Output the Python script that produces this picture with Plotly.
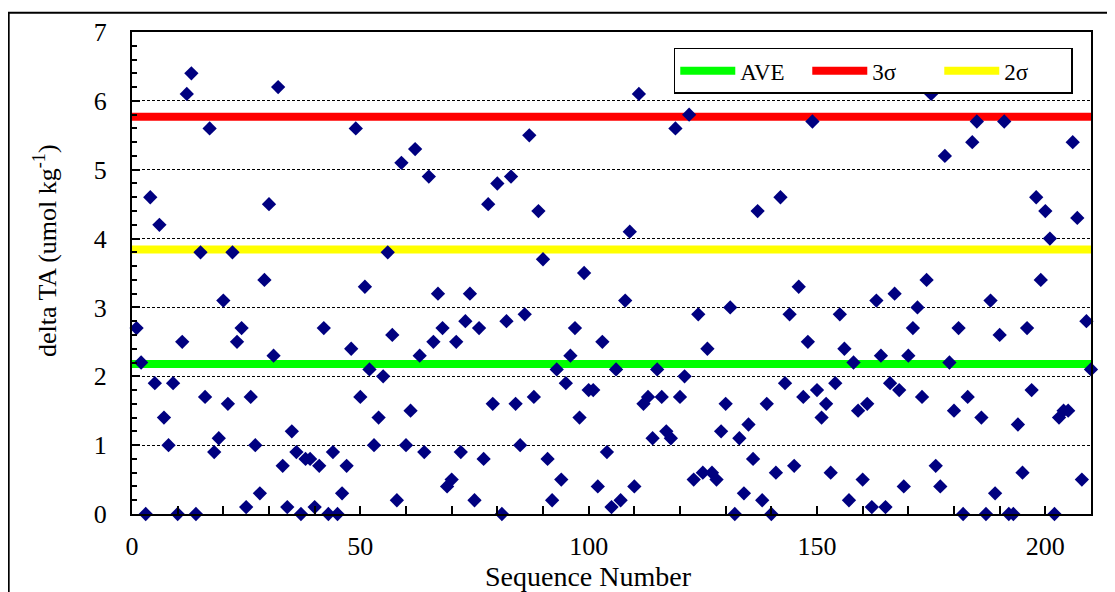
import plotly.graph_objects as go

# ---- data ----
seq = list(range(1, 211))
delta_ta = [
    2.7, 2.2, 0.0, 4.6, 1.9, 4.2, 1.4, 1.0, 1.9, 0.0,   # 1-10
    2.5, 6.1, 6.4, 0.0, 3.8, 1.7, 5.6, 0.9, 1.1, 3.1,   # 11-20
    1.6, 3.8, 2.5, 2.7, 0.1, 1.7, 1.0, 0.3, 3.4, 4.5,   # 21-30
    2.3, 6.2, 0.7, 0.1, 1.2, 0.9, 0.0, 0.8, 0.8, 0.1,   # 31-40
    0.7, 2.7, 0.0, 0.9, 0.0, 0.3, 0.7, 2.4, 5.6, 1.7,   # 41-50
    3.3, 2.1, 1.0, 1.4, 2.0, 3.8, 2.6, 0.2, 5.1, 1.0,   # 51-60
    1.5, 5.3, 2.3, 0.9, 4.9, 2.5, 3.2, 2.7, 0.4, 0.5,   # 61-70
    2.5, 0.9, 2.8, 3.2, 0.2, 2.7, 0.8, 4.5, 1.6, 4.8,   # 71-80
    0.0, 2.8, 4.9, 1.6, 1.0, 2.9, 5.5, 1.7, 4.4, 3.7,   # 81-90
    0.8, 0.2, 2.1, 0.5, 1.9, 2.3, 2.7, 1.4, 3.5, 1.8,   # 91-100
    1.8, 0.4, 2.5, 0.9, 0.1, 2.1, 0.2, 3.1, 4.1, 0.4,   # 101-110
    6.1, 1.6, 1.7, 1.1, 2.1, 1.7, 1.2, 1.1, 5.6, 1.7,   # 111-120
    2.0, 5.8, 0.5, 2.9, 0.6, 2.4, 0.6, 0.5, 1.2, 1.6,   # 121-130
    3.0, 0.0, 1.1, 0.3, 1.3, 0.8, 4.4, 0.2, 1.6, 0.0,   # 131-140
    0.6, 4.6, 1.9, 2.9, 0.7, 3.3, 1.7, 2.5, 5.7, 1.8,   # 141-150
    1.4, 1.6, 0.6, 1.9, 2.9, 2.4, 0.2, 2.2, 1.5, 0.5,   # 151-160
    1.6, 0.1, 3.1, 2.3, 0.1, 1.9, 3.2, 1.8, 0.4, 2.3,   # 161-170
    2.7, 3.0, 1.7, 3.4, 6.1, 0.7, 0.4, 5.2, 2.2, 1.5,   # 171-180
    2.7, 0.0, 1.7, 5.4, 5.7, 1.4, 0.0, 3.1, 0.3, 2.6,   # 181-190
    5.7, 0.0, 0.0, 1.3, 0.6, 2.7, 1.8, 4.6, 3.4, 4.4,   # 191-200
    4.0, 0.0, 1.4, 1.5, 1.5, 5.4, 4.3, 0.5, 2.8, 2.1,   # 201-210
]

line_names = ["AVE", "3σ", "2σ"]
line_values = [2.18, 5.77, 3.84]
line_colors = ["#00ff00", "#ff0000", "#ffff00"]
x_span = [0, 210]

x_ticks = [0, 50, 100, 150, 200]
y_ticks = [0, 1, 2, 3, 4, 5, 6, 7]

x_title = "Sequence Number"
y_title = "delta TA (umol kg<sup>-1</sup>)"

FONT = "Liberation Serif"

fig = go.Figure()

for name, val, col in zip(line_names, line_values, line_colors):
    fig.add_trace(go.Scatter(
        x=x_span, y=[val, val], mode="lines", name=name,
        line=dict(color=col, width=8), cliponaxis=False,
    ))

fig.add_trace(go.Scatter(
    x=seq, y=delta_ta, mode="markers", showlegend=False,
    marker=dict(symbol="diamond", size=11, color="#000080", line=dict(width=0)),
    cliponaxis=False,
))

# the page body has an 8px margin, so the figure is sized/offset to compensate
fig.update_layout(
    width=1107, height=584,
    margin=dict(l=124, r=24, t=24, b=78, autoexpand=False),
    paper_bgcolor="white", plot_bgcolor="white",
    font=dict(family=FONT, size=26, color="black"),
    showlegend=True,
    legend=dict(
        orientation="h", x=0.981, xanchor="right", y=0.967, yanchor="top",
        bordercolor="black", borderwidth=1.5, bgcolor="white",
        font=dict(family=FONT, size=23, color="black"),
        itemwidth=55, entrywidth=62, entrywidthmode="pixels",
    ),
    shapes=[dict(
        type="rect", xref="paper", yref="paper",
        x0=-0.1286, x1=1.05, y0=-0.2, y1=1.040,
        line=dict(color="black", width=2), fillcolor="rgba(0,0,0,0)", layer="below",
    )],
    annotations=[
        dict(text=x_title, xref="paper", yref="paper", x=0.4765, y=-0.1295,
             xanchor="center", yanchor="middle", showarrow=False,
             font=dict(family=FONT, size=28, color="black")),
        dict(text=y_title, xref="paper", yref="paper", x=-0.0907, y=0.5456,
             xanchor="center", yanchor="middle", textangle=-90, showarrow=False,
             font=dict(family=FONT, size=26, color="black")),
    ],
)

fig.update_xaxes(
    range=[0, 210], tickvals=x_ticks, ticks="inside", ticklen=8, tickwidth=1.5,
    tickcolor="black", showline=True, linecolor="black", linewidth=2, mirror=True,
    showgrid=False, zeroline=False, ticklabelstandoff=8, automargin=False,
    tickfont=dict(family=FONT, size=26),
    minor=dict(dtick=10, ticks="inside", ticklen=8, tickcolor="black", tickwidth=1.5, showgrid=False),
)
fig.update_yaxes(
    range=[0, 7], tickvals=y_ticks, ticks="inside", ticklen=8, tickwidth=1.5,
    tickcolor="black", showline=True, linecolor="black", linewidth=2, mirror=True,
    showgrid=True, gridcolor="black", gridwidth=1, griddash="3px,2px",
    zeroline=False, ticklabelstandoff=18, automargin=False,
    tickfont=dict(family=FONT, size=26),
    minor=dict(dtick=0.2, ticks="inside", ticklen=5, tickcolor="black", tickwidth=1.5, showgrid=False),
)

fig.write_html("out.html")
